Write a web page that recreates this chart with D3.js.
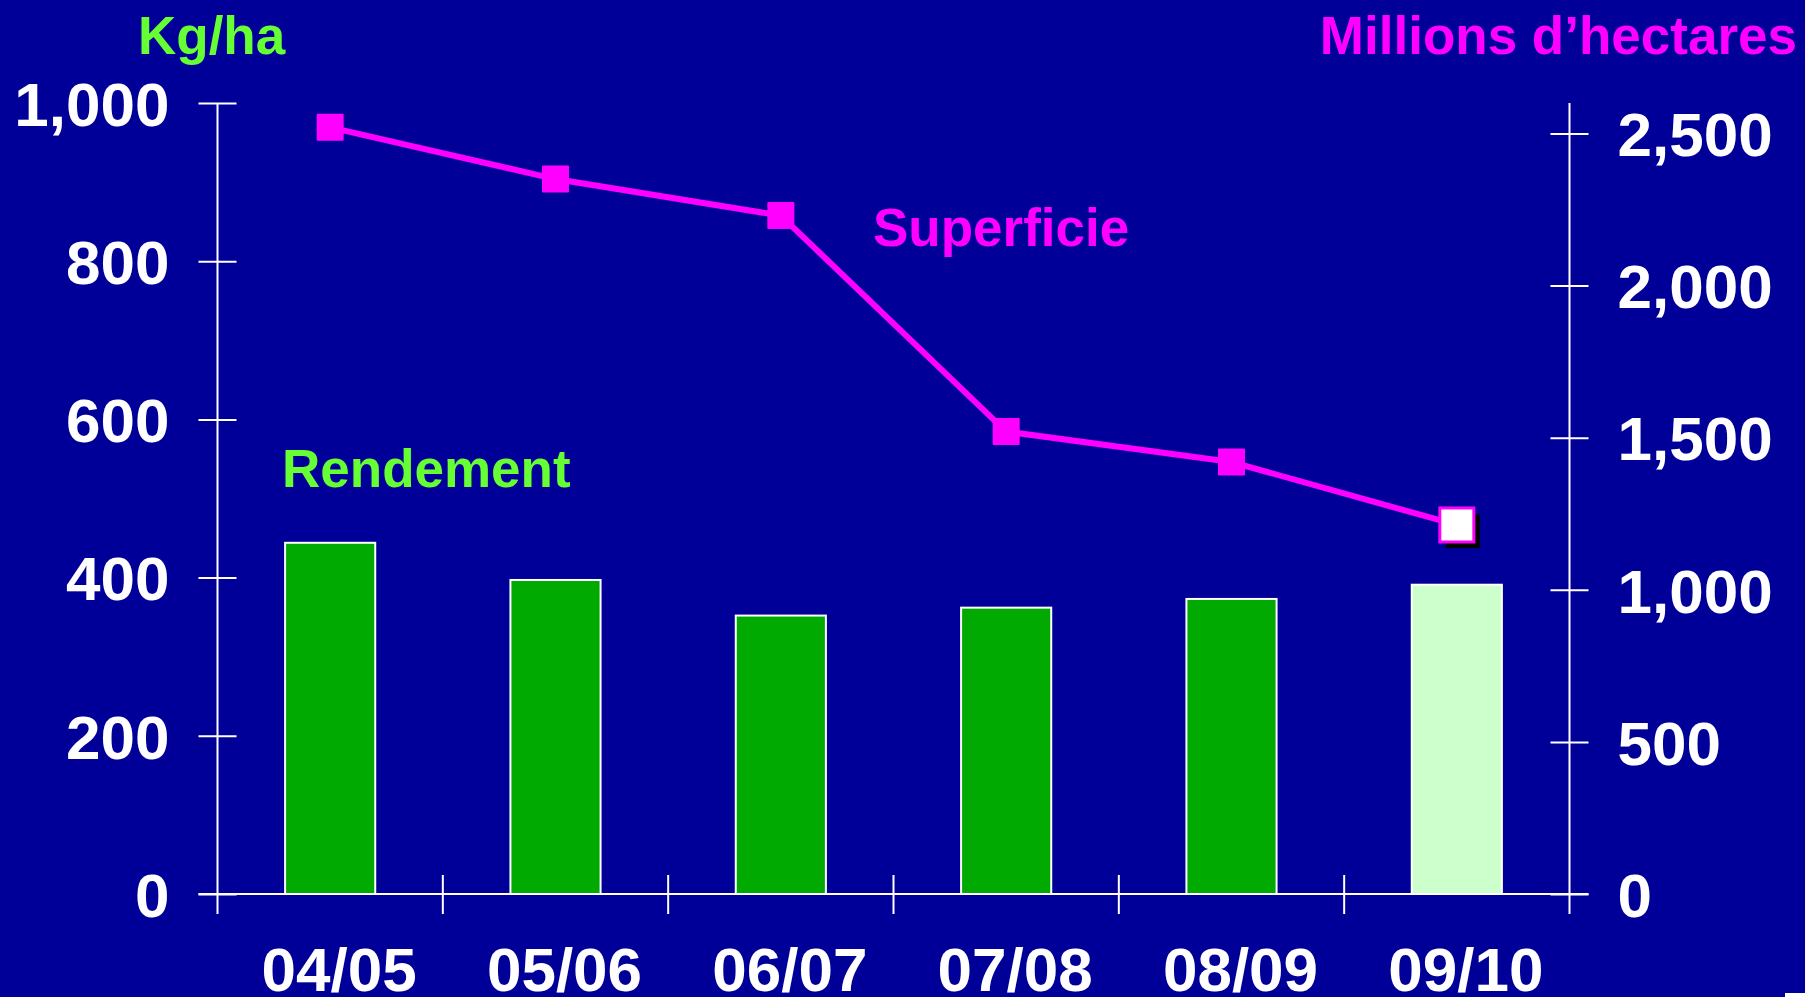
<!DOCTYPE html>
<html>
<head>
<meta charset="utf-8">
<script src="https://cdn.jsdelivr.net/npm/d3@7/dist/d3.min.js"></script>
<style>
  html, body { margin: 0; padding: 0; background: #000099; }
  svg { display: block; }
  text { font-family: "Liberation Sans", Arial, Helvetica, sans-serif; font-weight: bold; }
</style>
</head>
<body>
<svg id="chart" width="1805" height="997"></svg>
<script>
// ---- data ----
const categories = ["04/05", "05/06", "06/07", "07/08", "08/09", "09/10"];
const rendement = [444, 397, 352, 362, 373, 391];          // Kg/ha (bars, left axis)
const superficie = [2520, 2350, 2230, 1520, 1420, 1213];   // Millions d'hectares (line, right axis)
const leftTicks = [0, 200, 400, 600, 800, 1000];
const rightTicks = [0, 500, 1000, 1500, 2000, 2500];
const estimated = [false, false, false, false, false, true];

// ---- layout ----
const W = 1805, H = 997;
const plotLeft = 217.5, plotRight = 1569.5, plotTop = 103, plotBottom = 894;
const bg = "#000099", green = "#00aa00", lightGreen = "#ccffcc", magenta = "#ff00ff", labelGreen = "#66ff33";

const svg = d3.select("#chart");
svg.append("rect").attr("width", W).attr("height", H).attr("fill", bg);

const x = d3.scaleBand().domain(categories).range([plotLeft, plotRight]).paddingInner(0.6).paddingOuter(0.3);
const yL = d3.scaleLinear().domain([0, 1000]).range([plotBottom, plotTop]);
const yR = d3.scaleLinear().domain([0, 2600]).range([plotBottom, plotTop]);
const step = x.step();
const fmt = d3.format(",");

// bars
svg.append("g").selectAll("rect").data(categories).join("rect")
  .attr("x", d => x(d))
  .attr("y", (d, i) => yL(rendement[i]))
  .attr("width", x.bandwidth())
  .attr("height", (d, i) => yL(0) - yL(rendement[i]))
  .attr("fill", (d, i) => estimated[i] ? lightGreen : green)
  .attr("stroke", "#ffffff").attr("stroke-width", 2);

// left axis
const gL = svg.append("g").attr("transform", `translate(${plotLeft},0)`)
  .call(d3.axisLeft(yL).tickValues(leftTicks).tickFormat(fmt).tickSize(0).tickPadding(48));
gL.select(".domain").remove();
gL.selectAll(".tick line").attr("x1", -19).attr("x2", 19).attr("stroke", "#fff").attr("stroke-width", 2);
gL.selectAll(".tick text").attr("fill", "#fff").attr("font-size", 62).attr("dy", "0.36em")
  .style("font-family", "'Liberation Sans', Arial, sans-serif").style("font-weight", "bold");
gL.append("line").attr("x1", 0).attr("x2", 0).attr("y1", plotTop).attr("y2", plotBottom + 20)
  .attr("stroke", "#fff").attr("stroke-width", 2);

// right axis
const gR = svg.append("g").attr("transform", `translate(${plotRight},0)`)
  .call(d3.axisRight(yR).tickValues(rightTicks).tickFormat(fmt).tickSize(0).tickPadding(48));
gR.select(".domain").remove();
gR.selectAll(".tick line").attr("x1", -19).attr("x2", 19).attr("stroke", "#fff").attr("stroke-width", 2);
gR.selectAll(".tick text").attr("fill", "#fff").attr("font-size", 62).attr("dy", "0.36em")
  .style("font-family", "'Liberation Sans', Arial, sans-serif").style("font-weight", "bold");
gR.append("line").attr("x1", 0).attr("x2", 0).attr("y1", plotTop).attr("y2", plotBottom + 20)
  .attr("stroke", "#fff").attr("stroke-width", 2);

// x axis baseline
svg.append("line").attr("x1", plotLeft - 19).attr("x2", plotRight + 19).attr("y1", plotBottom).attr("y2", plotBottom)
  .attr("stroke", "#fff").attr("stroke-width", 2);
// category boundary ticks
const boundaries = categories.slice(1).map(c => x(c) - (step - x.bandwidth()) / 2);
svg.append("g").selectAll("line").data(boundaries).join("line")
  .attr("x1", d => d).attr("x2", d => d).attr("y1", plotBottom - 19).attr("y2", plotBottom + 20)
  .attr("stroke", "#fff").attr("stroke-width", 2);
// category labels
svg.append("g").selectAll("text").data(categories).join("text")
  .attr("x", d => x(d) + x.bandwidth() / 2 + 9)
  .attr("y", 991)
  .attr("text-anchor", "middle").attr("fill", "#fff").attr("font-size", 62)
  .text(d => d);

// line
const cx = i => x(categories[i]) + x.bandwidth() / 2;
const line = d3.line().x((d, i) => cx(i)).y(d => yR(d));
svg.append("path").datum(superficie).attr("d", line)
  .attr("fill", "none").attr("stroke", magenta).attr("stroke-width", 6).attr("stroke-linejoin", "round");

// markers
const mk = svg.append("g");
superficie.forEach((v, i) => {
  if (estimated[i]) {
    const s = 34;
    mk.append("rect").attr("x", cx(i) - s / 2 + 6).attr("y", yR(v) - s / 2 + 6).attr("width", s).attr("height", s).attr("fill", "#000");
    mk.append("rect").attr("x", cx(i) - s / 2).attr("y", yR(v) - s / 2).attr("width", s).attr("height", s)
      .attr("fill", "#fff").attr("stroke", magenta).attr("stroke-width", 3);
  } else {
    const s = 27;
    mk.append("rect").attr("x", cx(i) - s / 2).attr("y", yR(v) - s / 2).attr("width", s).attr("height", s)
      .attr("fill", magenta).attr("rx", 1);
  }
});

// titles and labels
svg.append("text").attr("x", 138).attr("y", 54).attr("fill", labelGreen).attr("font-size", 53).text("Kg/ha");
svg.append("text").attr("x", 1797).attr("y", 54).attr("text-anchor", "end").attr("fill", magenta).attr("font-size", 53).text("Millions d’hectares");
svg.append("text").attr("x", 873).attr("y", 246).attr("fill", magenta).attr("font-size", 53).text("Superficie");
svg.append("text").attr("x", 282).attr("y", 487).attr("fill", labelGreen).attr("font-size", 53).text("Rendement");

// small corner mark
svg.append("rect").attr("x", 1785).attr("y", 993).attr("width", 20).attr("height", 4).attr("fill", "#fff");
</script>
</body>
</html>
